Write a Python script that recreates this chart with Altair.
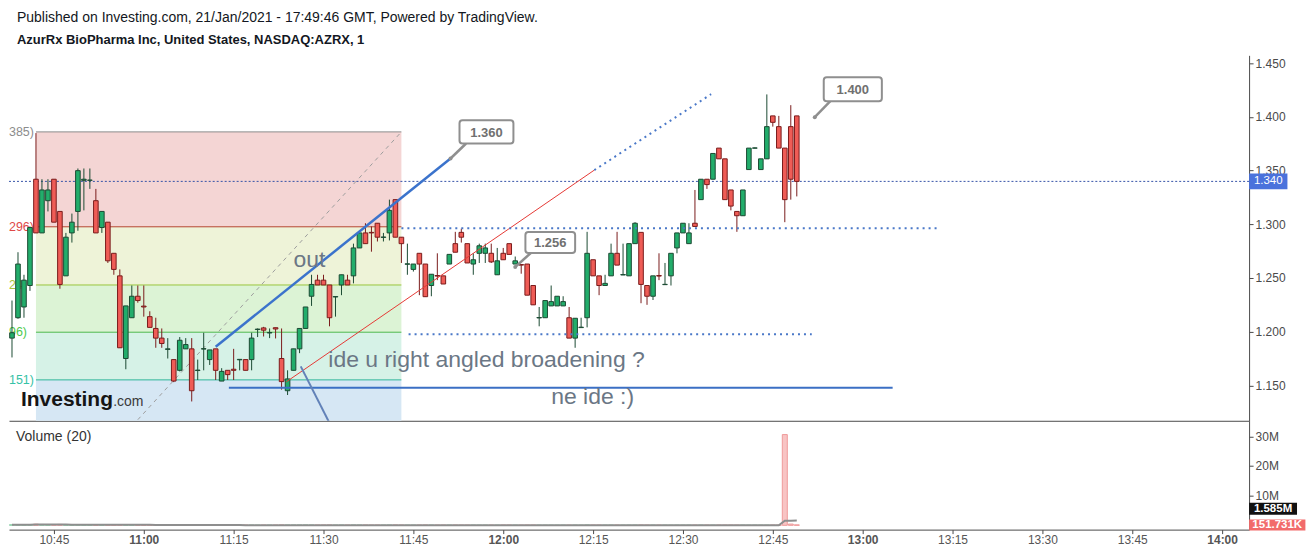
import altair as alt
import pandas as pd
import numpy as np

FONT = "Liberation Sans"

# ---------------- data ----------------
START_MINUTE = 638  # first candle 10:38, one-minute bars

opens = [1.194, 1.213, 1.223, 1.243, 1.342, 1.292, 1.322, 1.342, 1.312, 1.252,
         1.292, 1.312, 1.341, 1.341, 1.322, 1.297, 1.302, 1.273, 1.252, 1.175,
         1.213, 1.233, 1.2238, 1.214, 1.203, 1.194, 1.1835, 1.174, 1.164, 1.184,
         1.184, 1.1638, 1.1838, 1.174, 1.184, 1.154, 1.164, 1.165, 1.1738, 1.174,
         1.174, 1.2020, 1.2035, 1.1988, 1.2037, 1.175, 1.145, 1.164, 1.184, 1.203,
         1.233, 1.248, 1.248, 1.2435, 1.2323, 1.2435, 1.248, 1.252, 1.278, 1.292,
         1.2925, 1.301, 1.2878, 1.292, 1.323, 1.288, 1.2628, 1.258, 1.273, 1.263,
         1.243, 1.2523, 1.252, 1.263, 1.282, 1.2925, 1.282, 1.263, 1.273, 1.273,
         1.273, 1.253, 1.273, 1.282, 1.263, 1.2625, 1.263, 1.243, 1.2128, 1.213,
         1.224, 1.224, 1.224, 1.213, 1.194, 1.2038, 1.213, 1.267, 1.252, 1.243,
         1.252, 1.273, 1.2528, 1.252, 1.282, 1.2925, 1.243, 1.233, 1.2523, 1.2438,
         1.252, 1.278, 1.292, 1.282, 1.301, 1.323, 1.342, 1.342, 1.371, 1.361,
         1.332, 1.312, 1.308, 1.351, 1.3709, 1.351, 1.361, 1.401, 1.391, 1.371,
         1.391, 1.401]

highs = [1.229, 1.274, 1.253, 1.298, 1.385, 1.342, 1.342, 1.342, 1.312, 1.292,
         1.310, 1.352, 1.352, 1.352, 1.333, 1.312, 1.302, 1.273, 1.258, 1.224,
         1.243, 1.243, 1.243, 1.219, 1.213, 1.203, 1.194, 1.174, 1.195, 1.194,
         1.194, 1.174, 1.199, 1.183, 1.184, 1.166, 1.164, 1.184, 1.1742, 1.174,
         1.199, 1.203, 1.2045, 1.203, 1.2037, 1.203, 1.164, 1.184, 1.203, 1.223,
         1.253, 1.253, 1.253, 1.2435, 1.2327, 1.253, 1.253, 1.282, 1.292, 1.301,
         1.298, 1.301, 1.292, 1.323, 1.323, 1.288, 1.282, 1.263, 1.273, 1.263,
         1.2535, 1.273, 1.252, 1.272, 1.293, 1.296, 1.282, 1.273, 1.282, 1.282,
         1.282, 1.278, 1.278, 1.282, 1.270, 1.2625, 1.263, 1.243, 1.223, 1.229,
         1.243, 1.233, 1.233, 1.223, 1.2125, 1.213, 1.293, 1.267, 1.252, 1.253,
         1.282, 1.293, 1.282, 1.282, 1.302, 1.2925, 1.243, 1.252, 1.273, 1.264,
         1.273, 1.292, 1.301, 1.301, 1.332, 1.342, 1.342, 1.366, 1.371, 1.361,
         1.332, 1.312, 1.332, 1.371, 1.3715, 1.361, 1.421, 1.401, 1.401, 1.371,
         1.411, 1.401]

lows = [1.176, 1.212, 1.213, 1.238, 1.292, 1.292, 1.312, 1.302, 1.240, 1.252,
        1.283, 1.294, 1.313, 1.333, 1.292, 1.292, 1.264, 1.253, 1.185, 1.165,
        1.213, 1.227, 1.214, 1.204, 1.185, 1.185, 1.175, 1.153, 1.163, 1.184,
        1.135, 1.155, 1.164, 1.169, 1.155, 1.154, 1.155, 1.155, 1.164, 1.164,
        1.164, 1.195, 1.1955, 1.194, 1.1937, 1.146, 1.141, 1.164, 1.180, 1.203,
        1.224, 1.2435, 1.2435, 1.205, 1.214, 1.234, 1.2435, 1.245, 1.278, 1.282,
        1.2745, 1.284, 1.284, 1.285, 1.288, 1.264, 1.253, 1.256, 1.234, 1.2326,
        1.233, 1.248, 1.2444, 1.263, 1.274, 1.283, 1.264, 1.253, 1.264, 1.264,
        1.264, 1.253, 1.267, 1.272, 1.263, 1.254, 1.234, 1.225, 1.205, 1.213,
        1.224, 1.224, 1.224, 1.194, 1.185, 1.204, 1.204, 1.252, 1.234, 1.243,
        1.252, 1.262, 1.253, 1.252, 1.282, 1.2265, 1.225, 1.2295, 1.248, 1.2438,
        1.243, 1.273, 1.292, 1.282, 1.298, 1.323, 1.333, 1.342, 1.361, 1.323,
        1.313, 1.293, 1.308, 1.351, 1.3708, 1.351, 1.361, 1.391, 1.371, 1.302,
        1.323, 1.326]

closes = [1.199, 1.263, 1.248, 1.297, 1.292, 1.332, 1.332, 1.302, 1.244, 1.288,
          1.302, 1.350, 1.342, 1.3412, 1.292, 1.312, 1.266, 1.258, 1.185, 1.224,
          1.233, 1.229, 1.2230, 1.204, 1.194, 1.189, 1.184, 1.154, 1.192, 1.188,
          1.145, 1.1642, 1.1842, 1.183, 1.164, 1.163, 1.160, 1.164, 1.1742, 1.164,
          1.194, 1.2024, 1.2014, 1.1992, 1.2025, 1.1535, 1.156, 1.184, 1.203, 1.223,
          1.244, 1.2435, 1.2435, 1.213, 1.2327, 1.253, 1.2435, 1.278, 1.292, 1.282,
          1.2920, 1.288, 1.2882, 1.313, 1.288, 1.282, 1.2632, 1.263, 1.263, 1.2326,
          1.2535, 1.2518, 1.2444, 1.272, 1.274, 1.288, 1.264, 1.267, 1.280, 1.278,
          1.265, 1.266, 1.267, 1.272, 1.266, 1.2620, 1.234, 1.225, 1.2132, 1.229,
          1.228, 1.233, 1.228, 1.194, 1.2125, 1.2042, 1.273, 1.252, 1.243, 1.245,
          1.273, 1.262, 1.2532, 1.282, 1.301, 1.244, 1.233, 1.252, 1.2518, 1.2441,
          1.273, 1.292, 1.301, 1.292, 1.298, 1.342, 1.337, 1.366, 1.361, 1.323,
          1.317, 1.308, 1.332, 1.371, 1.3712, 1.361, 1.391, 1.395, 1.371, 1.323,
          1.342, 1.340]

volumes_k = [210, 185, 160, 240, 380, 290, 175, 260, 310, 150,
             120, 180, 95, 80, 140, 70, 110, 90, 220, 175,
             85, 60, 55, 70, 65, 48, 52, 110, 95, 40,
             130, 45, 50, 38, 60, 42, 35, 40, 22, 30,
             55, 28, 25, 20, 30, 85, 60, 72, 80, 95,
             70, 40, 35, 65, 30, 45, 30, 75, 58, 45,
             25, 40, 30, 62, 70, 35, 25, 30, 40, 55,
             35, 25, 30, 28, 42, 30, 22, 35, 25, 30,
             20, 18, 35, 40, 25, 15, 45, 38, 20, 15,
             18, 22, 25, 15, 40, 12, 95, 45, 35, 20,
             48, 40, 30, 42, 55, 75, 40, 35, 30, 25,
             15, 40, 28, 35, 22, 41, 30, 26, 38, 25,
             33, 29, 36, 24, 40, 31, 27, 34, 31, 30600,
             420, 151.731]

# Fibonacci retracement tool (levels as drawn)
fib_levels = [1.3861, 1.2977, 1.2435, 1.1995, 1.1551]
fib_zone_bottoms = [1.2977, 1.2435, 1.1995, 1.1551, 1.000]
fib_labels = ["385)", "296)", "24", "96)", "151)"]
fib_start, fib_end = 642.0, 703.0
fib_diag = [659.0, 1.118, 703.0, 1.3861]

# drawn lines (minute-of-day, price)
line_names = ["blue_trend", "red_trend", "ext_dotted", "hi_dotted", "lo_dotted", "support", "slant"]
line_x1 = [672.0, 683.8, 735.2, 703.0, 704.2, 674.2, 686.2]
line_y1 = [1.186, 1.1533, 1.3505, 1.2963, 1.1975, 1.1477, 1.1677]
line_x2 = [711.2, 735.2, 754.7, 792.5, 771.5, 785.0, 691.9]
line_y2 = [1.3613, 1.3505, 1.4212, 1.2963, 1.1975, 1.1477, 1.105]

# price callouts
callout_text = ["1.360", "1.256", "1.400"]
callout_x1 = [712.7, 723.7, 773.5]
callout_x2 = [721.7, 732.0, 783.2]
callout_ytop = [1.397, 1.2928, 1.437]
callout_ybot = [1.3753, 1.2733, 1.4147]
callout_px = [713.8, 724.6, 774.6]
callout_tx = [711.2, 722.0, 772.0]
callout_ty = [1.3613, 1.2602, 1.3998]

# free text notes
note_text = ["out", "ide u right angled broadening ?", "ne ide :)"]
note_x = [685.0, 690.8, 728.0]
note_y = [1.2602, 1.1672, 1.1322]

last_price = 1.340
time_ticks = list(range(645, 841, 15))
price_ticks = [1.15, 1.20, 1.25, 1.30, 1.35, 1.40, 1.45]
volume_ticks = [10e6, 20e6, 30e6]
ma_label, vol_label = "1.585M", "151.731K"

# ---------------- styles ----------------
UP_FILL, DN_FILL = "#22ad6b", "#ef5c56"
UP_EDGE, DN_EDGE = "#1c4a33", "#7a1c1c"
UP_VOL, DN_VOL = "#bfe6cf", "#f8c4c4"
AXC = "#4a4a4a"
ZONE_COLORS = ["#f4d5d4", "#eef3d8", "#dcf3d5", "#d6f2e7", "#d6e7f4"]
FIB_LINE_COLORS = ["#8c8c8c", "#b5442f", "#9bc53d", "#4cb84c", "#2fb59a"]
FIB_TEXT_COLORS = ["#8c8c8c", "#e04848", "#a9c63a", "#4cc94c", "#35c2a6"]
NOTE_COLOR = "#6b7785"

W, H_TOP, H_VOL = 1242, 366, 109
XS = alt.Scale(domain=[637.5, 844.5], nice=False, zero=False, padding=0)
YS = alt.Scale(domain=[1.117, 1.4574], nice=False, zero=False, padding=0)
VS = alt.Scale(domain=[-1.45e6, 35.25e6], nice=False, zero=False, padding=0)

XAX_T = alt.Axis(title=None, labels=False, ticks=False, grid=False, domain=True,
                 domainColor=AXC, domainWidth=1)
YAX_T = alt.Axis(title=None, orient="right", values=price_ticks, format=".3f", grid=False,
                 domainColor=AXC, tickColor=AXC, tickSize=4, labelColor=AXC,
                 labelFontSize=12, labelFont=FONT, labelPadding=2)
XAX_B = alt.Axis(title=None, values=time_ticks, grid=False, domainColor=AXC, tickColor=AXC,
                 tickSize=4, labelColor="#555555", labelFontSize=12, labelFont=FONT,
                 labelPadding=1,
                 labelExpr="floor(datum.value/60) + ':' + (datum.value % 60 < 10 ? '0' : '') + (datum.value % 60)",
                 labelFontWeight={"condition": {"test": "datum.value % 60 === 0", "value": "bold"},
                                  "value": "normal"})
VAX = alt.Axis(title=None, orient="right", values=volume_ticks, grid=False, domainColor=AXC,
               tickColor=AXC, tickSize=4, labelColor=AXC, labelFontSize=12, labelFont=FONT,
               labelPadding=2, labelExpr="(datum.value/1e6) + 'M'")


def xt(f):
    return alt.X(f, type="quantitative", scale=XS, axis=XAX_T)


def yt(f):
    return alt.Y(f, type="quantitative", scale=YS, axis=YAX_T)


def xb(f):
    return alt.X(f, type="quantitative", scale=XS, axis=XAX_B)


def yv(f):
    return alt.Y(f, type="quantitative", scale=VS, axis=VAX)


# ---------------- tables ----------------
n = len(opens)
df = pd.DataFrame({"m": [START_MINUTE + i for i in range(n)], "o": opens, "h": highs,
                   "l": lows, "c": closes, "v": [v * 1000 for v in volumes_k]})
up = df["c"] >= df["o"]
df["fill"] = np.where(up, UP_FILL, DN_FILL)
df["edge"] = np.where(up, UP_EDGE, DN_EDGE)
df["vfill"] = np.where(up, UP_VOL, DN_VOL)
df["vedge"] = np.where(up, "#8fd1aa", "#ef9a9a")

zones = pd.DataFrame({"x1": fib_start, "x2": fib_end, "top": fib_levels,
                      "bot": fib_zone_bottoms, "col": ZONE_COLORS})
fibl = pd.DataFrame({"x1": fib_start, "x2": fib_end, "y": fib_levels, "col": FIB_LINE_COLORS,
                     "lab": fib_labels, "tcol": FIB_TEXT_COLORS, "lx": 637.5})
diag = pd.DataFrame({"x1": [fib_diag[0]], "y1": [fib_diag[1]], "x2": [fib_diag[2]], "y2": [fib_diag[3]]})
lines = pd.DataFrame({"name": line_names, "x1": line_x1, "y1": line_y1, "x2": line_x2, "y2": line_y2})
co = pd.DataFrame({"t": callout_text, "x1": callout_x1, "x2": callout_x2, "yt": callout_ytop,
                   "yb": callout_ybot, "px": callout_px, "tx": callout_tx, "ty": callout_ty})
co["xm"] = (co["x1"] + co["x2"]) / 2
co["ym"] = (co["yt"] + co["yb"]) / 2 - 0.0008
notes = pd.DataFrame({"t": note_text, "x": note_x, "y": note_y})
lastp = pd.DataFrame({"x1": [637.5], "x2": [844.5], "y": [last_price]})
plab = pd.DataFrame({"x1": [844.5], "x2": [850.9], "yt": [last_price + 0.0074],
                     "yb": [last_price - 0.0074], "xm": [847.7], "y": [last_price],
                     "t": [f"{last_price:.3f}"]})


def sel(name):
    return lines[lines["name"] == name]


# ---------------- top pane ----------------
zone_l = alt.Chart(zones).mark_rect(clip=True).encode(
    x=xt("x1"), x2="x2", y=yt("top"), y2="bot", fill=alt.Fill("col:N", scale=None))
fib_rules = alt.Chart(fibl).mark_rule(strokeWidth=1).encode(
    x=xt("x1"), x2="x2", y=yt("y"), color=alt.Color("col:N", scale=None))
fib_text = alt.Chart(fibl).mark_text(align="left", baseline="middle", font=FONT, fontSize=12.5).encode(
    x=xt("lx"), y=yt("y"), text="lab:N", color=alt.Color("tcol:N", scale=None))
diag_l = alt.Chart(diag).mark_rule(color="#9e9e9e", strokeWidth=1, strokeDash=[4, 4], clip=True).encode(
    x=xt("x1"), y=yt("y1"), x2="x2", y2="y2")
last_l = alt.Chart(lastp).mark_rule(color="#3552a8", strokeWidth=1, strokeDash=[2, 2]).encode(
    x=xt("x1"), x2="x2", y=yt("y"))

wicks = alt.Chart(df).mark_rule(strokeWidth=1).encode(
    x=xt("m"), y=yt("l"), y2="h", color=alt.Color("edge:N", scale=None))
bodies = alt.Chart(df).mark_bar(size=4.6, strokeWidth=1).encode(
    x=xt("m"), y=yt("o"), y2="c", fill=alt.Fill("fill:N", scale=None),
    stroke=alt.Stroke("edge:N", scale=None))

blue_trend = alt.Chart(sel("blue_trend")).mark_rule(color="#3b73cc", strokeWidth=2.5).encode(
    x=xt("x1"), y=yt("y1"), x2="x2", y2="y2")
red_trend = alt.Chart(sel("red_trend")).mark_rule(color="#e53935", strokeWidth=1).encode(
    x=xt("x1"), y=yt("y1"), x2="x2", y2="y2")
dotted = alt.Chart(lines[lines["name"].isin(["ext_dotted", "hi_dotted", "lo_dotted"])]).mark_rule(
    color="#4a78c8", strokeWidth=2, strokeDash=[2, 4]).encode(
    x=xt("x1"), y=yt("y1"), x2="x2", y2="y2")
support = alt.Chart(sel("support")).mark_rule(color="#3b6fc4", strokeWidth=2).encode(
    x=xt("x1"), y=yt("y1"), x2="x2", y2="y2")
slant = alt.Chart(sel("slant")).mark_rule(color="#6282b8", strokeWidth=2, clip=True).encode(
    x=xt("x1"), y=yt("y1"), x2="x2", y2="y2")

note_l = alt.Chart(notes).mark_text(align="left", baseline="alphabetic", font=FONT, fontSize=23,
                                    color=NOTE_COLOR).encode(x=xt("x"), y=yt("y"), text="t:N")

ptr = alt.Chart(co).mark_rule(color="#8f8f8f", strokeWidth=2.5).encode(
    x=xt("px"), y=yt("yb"), x2="tx", y2="ty")
dot = alt.Chart(co).mark_point(filled=True, size=16, color="#8f8f8f", opacity=1).encode(
    x=xt("tx"), y=yt("ty"))
box = alt.Chart(co).mark_rect(fill="white", stroke="#8f8f8f", strokeWidth=2, cornerRadius=3).encode(
    x=xt("x1"), x2="x2", y=yt("yt"), y2="yb")
box_t = alt.Chart(co).mark_text(font=FONT, fontSize=13, fontWeight="bold", color="#707070",
                                baseline="middle").encode(x=xt("xm"), y=yt("ym"), text="t:N")

logo_df = pd.DataFrame({"t": ["Investing", ".com"], "x": [639.5, 654.9], "y": [1.1305, 1.1305]})
logo1 = alt.Chart(logo_df.iloc[[0]]).mark_text(align="left", baseline="alphabetic", font=FONT,
                                                fontSize=21, fontWeight="bold", color="#151515").encode(
    x=xt("x"), y=yt("y"), text="t:N")
logo2 = alt.Chart(logo_df.iloc[[1]]).mark_text(align="left", baseline="alphabetic", font=FONT,
                                                fontSize=14, color="#3a3a3a").encode(
    x=xt("x"), y=yt("y"), text="t:N")

pbox = alt.Chart(plab).mark_rect(fill="#4a72dc").encode(x=xt("x1"), x2="x2", y=yt("yt"), y2="yb")
ptext = alt.Chart(plab).mark_text(font=FONT, fontSize=11.5, color="white", baseline="middle").encode(
    x=xt("xm"), y=yt("y"), text="t:N")

top = alt.layer(zone_l, fib_rules, fib_text, diag_l, last_l, wicks, bodies, blue_trend, red_trend,
                dotted, support, slant, note_l, ptr, box, dot, box_t, logo1, logo2, pbox, ptext
                ).properties(width=W, height=H_TOP)

# ---------------- volume pane ----------------
vbars = alt.Chart(df).mark_bar(size=5, strokeWidth=1).encode(
    x=xb("m"), y=yv("v"), y2=alt.datum(0), fill=alt.Fill("vfill:N", scale=None),
    stroke=alt.Stroke("vedge:N", scale=None))
vma = alt.Chart(df).transform_window(
    ma="mean(v)", frame=[-19, 0], sort=[alt.SortField("m")]
).mark_line(color="#8e8e8e", strokeWidth=2).encode(x=xb("m"), y=yv("ma"))

vtitle = alt.Chart(pd.DataFrame({"t": ["Volume (20)"], "x": [638.67], "y": [29.9e6]})).mark_text(
    align="left", baseline="middle", font=FONT, fontSize=14, color="#333333").encode(
    x=xb("x"), y=yv("y"), text="t:N")

vlab = pd.DataFrame({"t": [ma_label, vol_label], "x1": [844.5, 844.5], "x2": [852.5, 853.9],
                     "yt": [7.64e6, 1.92e6], "yb": [3.6e6, -1.78e6],
                     "col": ["#111111", "#f26b6b"]})
vlab["xm"] = (vlab["x1"] + vlab["x2"]) / 2
vlab["ym"] = (vlab["yt"] + vlab["yb"]) / 2
vbox = alt.Chart(vlab).mark_rect().encode(x=xb("x1"), x2="x2", y=yv("yt"), y2="yb",
                                          fill=alt.Fill("col:N", scale=None))
vtext = alt.Chart(vlab).mark_text(font=FONT, fontSize=11.5, fontWeight="bold", color="white",
                                  baseline="middle").encode(x=xb("xm"), y=yv("ym"), text="t:N")

bottom = alt.layer(vbars, vma, vtitle, vbox, vtext).properties(width=W, height=H_VOL)

chart = alt.vconcat(top, bottom, spacing=0).properties(
    padding={"left": 0, "top": 3, "right": 2, "bottom": 2},
    title=alt.TitleParams(
        text="Published on Investing.com, 21/Jan/2021 - 17:49:46 GMT, Powered by TradingView.",
        subtitle="AzurRx BioPharma Inc, United States, NASDAQ:AZRX, 1",
        anchor="start", frame="group", dx=8, offset=8,
        font=FONT, fontSize=14, fontWeight="normal", color="#131722",
        subtitleFont=FONT, subtitleFontSize=13, subtitleFontWeight="bold",
        subtitleColor="#131722", subtitlePadding=9)
).configure(font=FONT).configure_view(stroke="transparent", strokeWidth=0)

chart.save("out.html", embed_options={"renderer": "svg", "actions": False})
